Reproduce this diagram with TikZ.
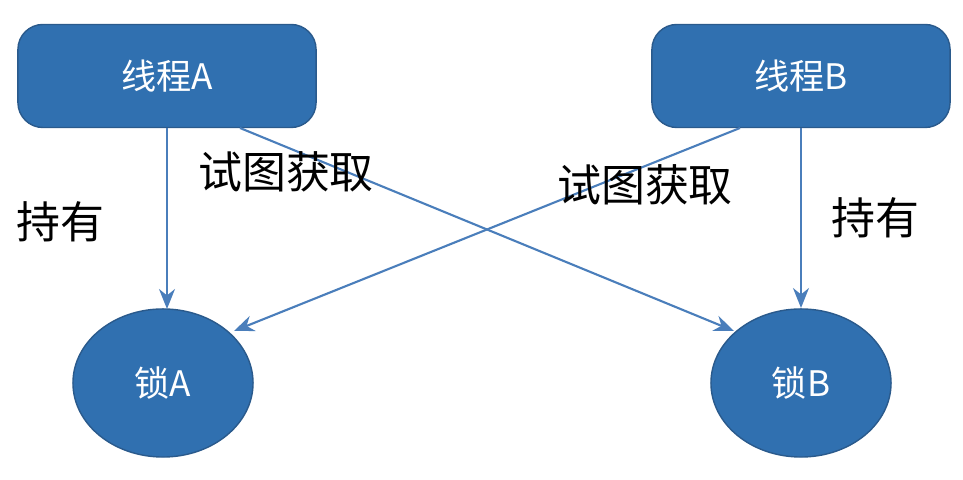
\documentclass[tikz,border=0pt]{standalone}
\usepackage{fontspec}
\setmainfont{Noto Sans CJK SC}
\usetikzlibrary{arrows.meta}
\usetikzlibrary{positioning}
\usetikzlibrary{shapes.geometric}
\definecolor{boxfill}{HTML}{3070B0}
\definecolor{boxline}{HTML}{2A5A8C}
\definecolor{arrowcol}{HTML}{4A7EBB}
\tikzset{
    thread/.style={
        draw=boxline,
        fill=boxfill,
        rounded corners=0.25cm,
        minimum width=2.98cm,
        minimum height=1.03cm,
        text=white,
        font=\fontsize{10}{12}\selectfont
    },
    lock/.style={
        draw=boxline,
        fill=boxfill,
        ellipse,
        minimum width=1.8cm,
        minimum height=1.48cm,
        text=white,
        font=\fontsize{10}{12}\selectfont
    },
    every edge/.style={
        draw=arrowcol,
        -{Stealth[length=2mm, width=1.6mm]},
        semithick
    }
}

\begin{document}
\begin{tikzpicture}[x=0.01cm,y=-0.01cm]
  \useasboundingbox (0,0) rectangle (963,480);
  % Threads and locks
  \node[thread] (tA) at (167,76) {线程A};
  \node[thread] (tB) at (801,76) {线程B};
  \node[lock] (lA) at (163,383) {锁A};
  \node[lock] (lB) at (801,383) {锁B};

  % Helper points on the borders
  \coordinate (tAd) at (167,128);
  \coordinate (tAr) at (240,128);
  \coordinate (tBl) at (740,128);
  \coordinate (tBd) at (801,128);
  \coordinate (lAu) at (167,309);
  \coordinate (lAr) at (234,331);
  \coordinate (lBl) at (734,331);
  \coordinate (lBu) at (801,308);

  % Hold and request edges
  \draw (tAd) edge (lAu);
  \draw (tAr) edge (lBl);
  \draw (tBl) edge (lAr);
  \draw (tBd) edge (lBu);

  % Edge labels
  \node[font=\fontsize{12.5}{14}\selectfont] (hA) at (60,222) {持有};
  \node[font=\fontsize{12.5}{14}\selectfont] (rA) at (286,172) {试图获取};
  \node[font=\fontsize{12.5}{14}\selectfont] (rB) at (645,185) {试图获取};
  \node[font=\fontsize{12.5}{14}\selectfont] (hB) at (875,218) {持有};
\end{tikzpicture}
\end{document}
